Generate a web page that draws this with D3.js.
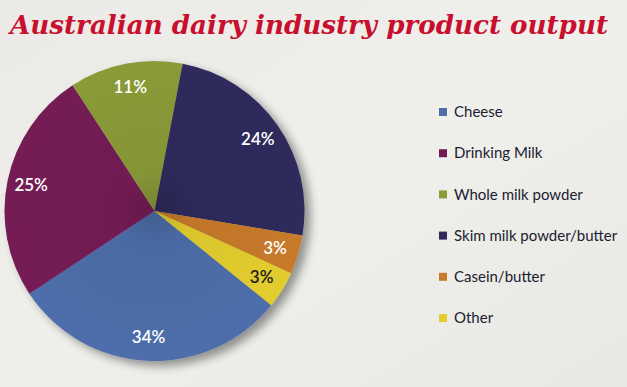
<!DOCTYPE html>
<html>
<head>
<meta charset="utf-8">
<script src="https://cdn.jsdelivr.net/npm/d3@7"></script>
<style>
  body { margin: 0; background: #ecebe7; }
</style>
</head>
<body>
<script>
// slice shares, printed labels as shown
var categories = ["Cheese", "Drinking Milk", "Whole milk powder", "Skim milk powder/butter", "Casein/butter", "Other"];
var shares = [29.9, 25.1, 12.2, 24.6, 4.2, 4.0];
var pctLabels = ["34%", "25%", "11%", "24%", "3%", "3%"];
var colors = ["#4e6eaa", "#741a55", "#8a9a37", "#2f2a5b", "#c77a2b", "#e3cd2d"];

var W = 627, H = 387;
var svg = d3.select("body").append("svg")
    .attr("width", W)
    .attr("height", H);

var defs = svg.append("defs");
var bg = defs.append("linearGradient").attr("id", "bg")
    .attr("x1", 0).attr("y1", 0).attr("x2", 1).attr("y2", 1);
bg.append("stop").attr("offset", "0%").attr("stop-color", "#eceae6");
bg.append("stop").attr("offset", "50%").attr("stop-color", "#efefeb");
bg.append("stop").attr("offset", "100%").attr("stop-color", "#e9e8e4");

var shadow = defs.append("filter").attr("id", "shadow")
    .attr("x", "-20%").attr("y", "-20%").attr("width", "150%").attr("height", "150%");
shadow.append("feGaussianBlur").attr("in", "SourceAlpha").attr("stdDeviation", 5);
shadow.append("feOffset").attr("dx", 6).attr("dy", 5).attr("result", "b");
shadow.append("feComponentTransfer").append("feFuncA").attr("type", "linear").attr("slope", 0.4);
var merge = shadow.append("feMerge");
merge.append("feMergeNode");
merge.append("feMergeNode").attr("in", "SourceGraphic");

var shade = defs.append("radialGradient").attr("id", "shade")
    .attr("cx", "50%").attr("cy", "50%").attr("r", "50%");
shade.append("stop").attr("offset", "0%").attr("stop-color", "#000").attr("stop-opacity", 0.15);
shade.append("stop").attr("offset", "25%").attr("stop-color", "#000").attr("stop-opacity", 0.04);
shade.append("stop").attr("offset", "100%").attr("stop-color", "#000").attr("stop-opacity", 0);

svg.append("rect").attr("width", W).attr("height", H).attr("fill", "url(#bg)");

// title
svg.append("text")
    .attr("x", 10)
    .attr("y", 34)
    .attr("textLength", 598)
    .attr("lengthAdjust", "spacingAndGlyphs")
    .attr("font-family", "'DejaVu Serif', serif")
    .attr("font-weight", "bold")
    .attr("font-style", "italic")
    .attr("font-size", "26px")
    .attr("fill", "#c8102e")
    .text("Australian dairy industry product output");

// pie
var cx = 154.5, cy = 211, r = 150;
var start = 128.9 * Math.PI / 180;

var pie = d3.pie().sort(null)
    .startAngle(start)
    .endAngle(start + 2 * Math.PI);
var arcs = pie(shares);
var arc = d3.arc().innerRadius(0).outerRadius(r);
var labelArc = d3.arc().innerRadius(126).outerRadius(126);

var g = svg.append("g").attr("transform", "translate(" + cx + "," + cy + ")");
var slices = g.append("g").attr("filter", "url(#shadow)");
slices.selectAll("path")
  .data(arcs)
  .enter().append("path")
    .attr("d", arc)
    .attr("fill", function(d, i) { return colors[i]; });
g.append("circle").attr("r", r).attr("fill", "url(#shade)");

g.selectAll("text.pct")
  .data(arcs)
  .enter().append("text")
    .attr("class", "pct")
    .attr("transform", function(d) { return "translate(" + labelArc.centroid(d) + ")"; })
    .attr("dy", "0.35em")
    .attr("text-anchor", "middle")
    .attr("font-family", "Lato, sans-serif")
    .attr("font-weight", 600)
    .attr("font-size", "17px")
    .attr("fill", function(d, i) { return i == 5 ? "#1a1a1a" : "#ffffff"; })
    .text(function(d, i) { return pctLabels[i]; });

// legend
var legend = svg.append("g").attr("transform", "translate(439,112)");
var rows = legend.selectAll("g")
  .data(categories)
  .enter().append("g")
    .attr("transform", function(d, i) { return "translate(0," + (i * 41.2) + ")"; });
rows.append("rect")
    .attr("x", 0).attr("y", -4)
    .attr("width", 8).attr("height", 8)
    .attr("fill", function(d, i) { return colors[i]; });
rows.append("text")
    .attr("x", 15)
    .attr("dy", "0.35em")
    .attr("font-family", "Lato, sans-serif")
    .attr("font-size", "15px")
    .attr("fill", "#1c1c30")
    .text(function(d) { return d; });
</script>
</body>
</html>
